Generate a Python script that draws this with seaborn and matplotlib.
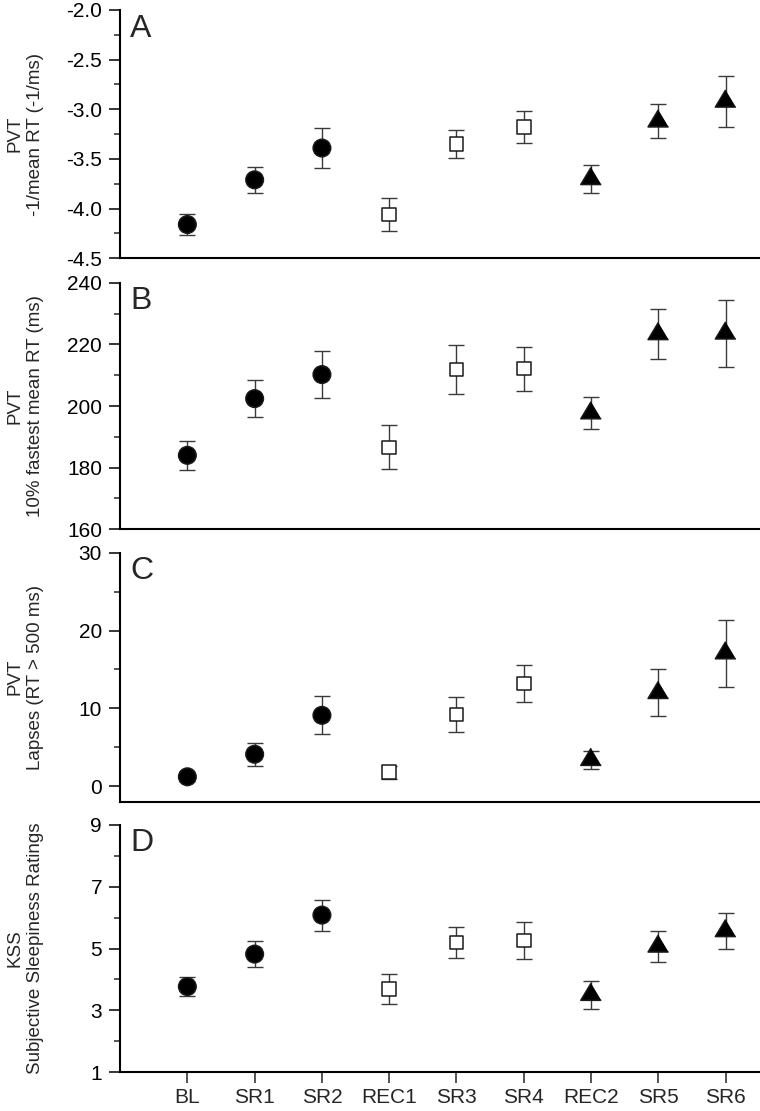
import numpy as np
import pandas as pd
import matplotlib
matplotlib.use('Agg')
import matplotlib.pyplot as plt
from matplotlib.ticker import MultipleLocator, FormatStrFormatter
import seaborn as sns

# Session labels and the block each session belongs to
sessions = ['BL', 'SR1', 'SR2', 'REC1', 'SR3', 'SR4', 'REC2', 'SR5', 'SR6']
blocks = ['Block 1', 'Block 1', 'Block 1',
          'Block 2', 'Block 2', 'Block 2',
          'Block 3', 'Block 3', 'Block 3']

# A: PVT -1/mean RT
inv_rt_mean = [-4.16, -3.71, -3.39, -4.06, -3.35, -3.18, -3.70, -3.12, -2.92]
inv_rt_sem = [0.11, 0.13, 0.20, 0.17, 0.14, 0.16, 0.14, 0.17, 0.26]

# B: PVT 10% fastest mean RT
fast_rt_mean = [184.0, 202.4, 210.2, 186.6, 211.8, 212.1, 197.7, 223.4, 223.6]
fast_rt_sem = [4.7, 6.0, 7.6, 7.2, 7.9, 7.1, 5.2, 8.2, 10.8]

# C: PVT lapses
lapses_mean = [1.2, 4.1, 9.1, 1.8, 9.2, 13.2, 3.4, 12.0, 17.1]
lapses_sem = [0.5, 1.45, 2.45, 0.85, 2.2, 2.35, 1.16, 3.0, 4.3]

# D: KSS
kss_mean = [3.77, 4.82, 6.08, 3.70, 5.20, 5.26, 3.51, 5.07, 5.57]
kss_sem = [0.30, 0.41, 0.50, 0.48, 0.50, 0.61, 0.45, 0.50, 0.59]

df = pd.DataFrame({
    'session': sessions,
    'pos': np.arange(len(sessions)),
    'block': blocks,
    'inv_rt': inv_rt_mean, 'inv_rt_sem': inv_rt_sem,
    'fast_rt': fast_rt_mean, 'fast_rt_sem': fast_rt_sem,
    'lapses': lapses_mean, 'lapses_sem': lapses_sem,
    'kss': kss_mean, 'kss_sem': kss_sem,
})

sns.set_style('ticks')
plt.rcParams['font.family'] = ['Liberation Sans', 'DejaVu Sans']
plt.rcParams['axes.unicode_minus'] = False

# triangle centred on its centroid
tri = [(0, 0.667), (-0.6, -0.333), (0.6, -0.333)]
markers = {'Block 1': 'o', 'Block 2': 's', 'Block 3': tri}
palette = {'Block 1': 'black', 'Block 2': 'white', 'Block 3': 'black'}
sizes = {'Block 1': 160, 'Block 2': 95, 'Block 3': 270}

panels = [
    ('A', 'inv_rt', 'PVT\n-1/mean RT (-1/ms)', (-4.5, -2.0), 0.5, 0.25, '%.1f',
     [0.1580, 0.7675, 0.8410, 0.2235]),
    ('B', 'fast_rt', 'PVT\n10% fastest mean RT (ms)', (160, 240), 20, 10, '%d',
     [0.1580, 0.5236, 0.8410, 0.2219]),
    ('C', 'lapses', 'PVT\nLapses (RT > 500 ms)', (-2, 30), 10, 5, '%d',
     [0.1580, 0.2784, 0.8410, 0.2241]),
    ('D', 'kss', 'KSS\nSubjective Sleepiness Ratings', (1, 9), 2, 1, '%d',
     [0.1580, 0.0348, 0.8410, 0.2229]),
]

fig = plt.figure(figsize=(7.6, 11.11), dpi=100)

for i, (letter, col, ylabel, ylim, major, minor, fmt, rect) in enumerate(panels):
    ax = fig.add_axes(rect)
    ax.errorbar(df['pos'], df[col], yerr=df[col + '_sem'], fmt='none',
                ecolor='#3a3a3a', elinewidth=1.0, capsize=6, capthick=1.0,
                zorder=2)
    sns.scatterplot(data=df, x='pos', y=col, hue='block', style='block',
                    size='block', markers=markers, palette=palette,
                    sizes=sizes, edgecolor='#1a1a1a', linewidth=1.1,
                    legend=False, zorder=3, ax=ax)

    ax.set_xlim(-1, 8.5)
    ax.set_ylim(*ylim)
    if letter == 'C':
        ax.set_yticks([0, 10, 20, 30])
        ax.set_yticks([5, 15, 25], minor=True)
    elif letter == 'D':
        ax.set_yticks([1, 3, 5, 7, 9])
        ax.set_yticks([2, 4, 6, 8], minor=True)
    else:
        ax.yaxis.set_major_locator(MultipleLocator(major))
        ax.yaxis.set_minor_locator(MultipleLocator(minor))
    ax.yaxis.set_major_formatter(FormatStrFormatter(fmt))

    ax.tick_params(axis='y', which='major', length=8, width=1.1,
                   labelsize=15, pad=5, colors='black')
    ax.tick_params(axis='y', which='minor', length=4.5, width=1.1)

    if letter == 'D':
        ax.set_xticks(df['pos'], df['session'])
        ax.tick_params(axis='x', length=8, width=1.1, labelsize=15, pad=3.5)
    else:
        ax.set_xticks([])
    ax.set_xlabel('')

    ax.set_ylabel(ylabel, fontsize=13.5, linespacing=1.3)
    ax.yaxis.set_label_coords(-0.119, 0.5)

    sns.despine(ax=ax)
    for side in ['left', 'bottom']:
        ax.spines[side].set_linewidth(1.5)
        ax.spines[side].set_color('black')

    ax.text(0.016, 0.985, letter, transform=ax.transAxes, fontsize=23,
            ha='left', va='top')

fig.savefig('out.png', dpi=100)
